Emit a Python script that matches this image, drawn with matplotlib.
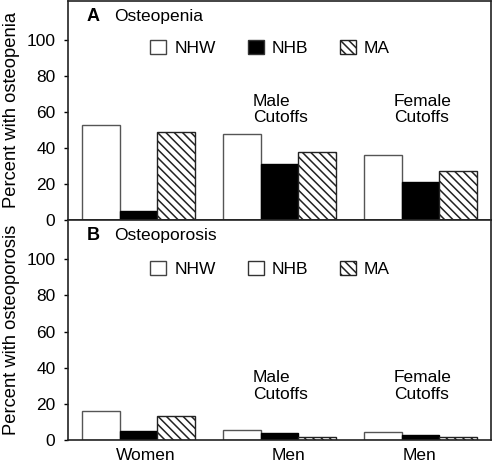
import matplotlib
matplotlib.use("Agg")
import matplotlib.pyplot as plt
from matplotlib.patches import Patch
import numpy as np

plt.rcParams['font.family'] = ['Liberation Sans', 'DejaVu Sans']
plt.rcParams['hatch.linewidth'] = 1.1

groups = ["Women", "Men", "Men"]
group_notes = ["", "Male\nCutoffs", "Female\nCutoffs"]
series = ["NHW", "NHB", "MA"]

osteopenia_nhw = [53, 48, 36]
osteopenia_nhb = [5, 31, 21]
osteopenia_ma = [49, 38, 27]

osteoporosis_nhw = [16, 5.5, 4.3]
osteoporosis_nhb = [5, 3.7, 3]
osteoporosis_ma = [13.5, 1.5, 1.5]

panel_letters = ["A", "B"]
panel_titles = ["Osteopenia", "Osteoporosis"]
ylabels = ["Percent with osteopenia", "Percent with osteoporosis"]
yticks = [0, 20, 40, 60, 80, 100]

W, H = 494, 468
fig = plt.figure(figsize=(W / 100, H / 100), dpi=100)
left, right = 68 / W, 491 / W
ax1 = fig.add_axes([left, 1 - 220 / H, right - left, 219 / H])
ax2 = fig.add_axes([left, 1 - 440 / H, right - left, 220 / H])

x = np.arange(len(groups))
bw = 0.268
HATCH = "\\\\\\\\"

def draw(ax, nhw, nhb, ma, legend_nhb_black, leg_y):
    ax.bar(x - bw, nhw, bw, color="white", edgecolor="#555555", linewidth=1.0)
    ax.bar(x, nhb, bw, color="black", edgecolor="black", linewidth=1.0)
    ax.bar(x + bw, ma, bw, color="white", edgecolor="#222222", hatch=HATCH, linewidth=1.0)
    ax.set_xlim(-0.5, 2.5)
    ax.set_ylim(0, 121.7)
    ax.set_yticks(yticks)
    ax.tick_params(axis="y", labelsize=12.5, direction="out", length=3, width=1, pad=6)
    for s in ax.spines.values():
        s.set_linewidth(1.2)
        s.set_color("#222222")
    handles = [
        Patch(facecolor="white", edgecolor="#444444", linewidth=1.0),
        Patch(facecolor="black" if legend_nhb_black else "white", edgecolor="#333333", linewidth=1.0),
        Patch(facecolor="white", edgecolor="#222222", hatch=HATCH, linewidth=1.0),
    ]
    ax.legend(handles, series, ncol=3, frameon=False, fontsize=12.5,
              loc="center", bbox_to_anchor=(0.478, leg_y),
              handlelength=0.92, handleheight=0.85, handletextpad=0.45,
              columnspacing=1.85, borderpad=0, borderaxespad=0)

draw(ax1, osteopenia_nhw, osteopenia_nhb, osteopenia_ma, True, 0.785)
draw(ax2, osteoporosis_nhw, osteoporosis_nhb, osteoporosis_ma, False, 0.777)

for ax, letter, title, yl, ny in [(ax1, panel_letters[0], panel_titles[0], ylabels[0], 0.505),
                                   (ax2, panel_letters[1], panel_titles[1], ylabels[1], 0.245)]:
    ax.text(0.045, 0.93, letter, transform=ax.transAxes, fontsize=13,
            fontweight="bold", va="center", ha="left")
    ax.text(0.11, 0.93, title, transform=ax.transAxes, fontsize=12.5,
            va="center", ha="left")
    ax.set_ylabel(yl, fontsize=13.2, labelpad=5)
    for i, note in enumerate(group_notes):
        if note:
            ax.text(x[i] - 0.19, ny * 121.7, note, fontsize=12.5,
                    ha="left", va="center", linespacing=1.15)

ax1.set_xticks([])
ax2.set_xticks(x + np.array([0.05, 0.065, -0.01]))
ax2.set_xticklabels(groups, fontsize=12.5)
ax2.tick_params(axis="x", length=0, pad=6)

fig.savefig("out.png", dpi=100)
